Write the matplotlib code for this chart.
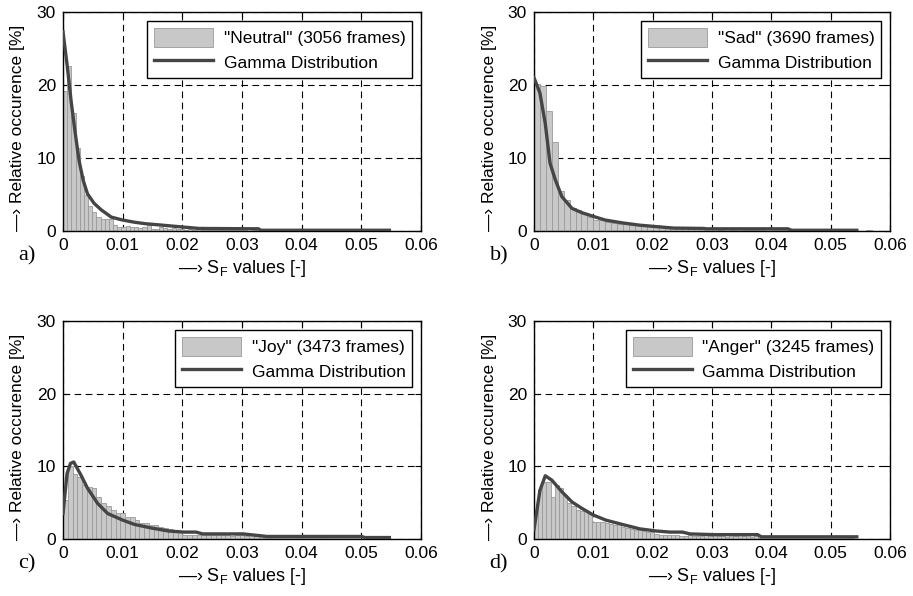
import numpy as np
import matplotlib
matplotlib.use("Agg")
import matplotlib.pyplot as plt

plt.rcParams["font.family"] = ["Liberation Sans", "DejaVu Sans"]
plt.rcParams["mathtext.fontset"] = "custom"
plt.rcParams["mathtext.rm"] = "Liberation Sans"

# histogram bar heights [%], left-aligned bins starting at 0
neutral_bins = [
    19.2, 22.6, 16.2, 11.4, 7.6, 5.0, 3.4, 2.6, 1.9, 1.7, 1.7, 1.6,
    0.8, 0.6, 0.6, 0.7, 0.5, 0.5, 0.4, 0.6, 0.8, 0.3, 0.3, 0.5,
    0.4, 0.3, 0.4, 0.3, 0.3, 0.2, 0.3, 0.2, 0.3, 0.2, 0.2, 0.1,
    0.2, 0.1, 0.1, 0.2, 0.1, 0.1, 0.1, 0.1, 0.0, 0.1, 0.1, 0.0,
    0.1, 0.0, 0.1, 0.0, 0.1, 0.0, 0.0, 0.1, 0.0, 0.0, 0.1, 0.0,
    0.0, 0.1, 0.0, 0.0, 0.0, 0.1, 0.0, 0.0, 0.0, 0.0, 0.1, 0.0,
    0.0, 0.0, 0.0, 0.0, 0.1,
]
sad_bins = [
    20.2, 19.9, 16.5, 12.2, 5.5, 4.2, 3.1, 2.9, 2.5, 1.9,
    1.5, 1.5, 1.3, 1.1, 1.0, 0.9, 0.8, 0.8, 0.7, 0.7,
    0.8, 0.6, 0.5, 0.5, 0.4, 0.4, 0.3, 0.4, 0.3, 0.3,
    0.3, 0.2, 0.3, 0.2, 0.3, 0.2, 0.2, 0.2, 0.2, 0.3,
    0.2, 0.2, 0.1, 0.1, 0.1, 0.1, 0.1, 0.1, 0.1, 0.1,
    0.1, 0.1, 0.1, 0.0, 0.0, 0.0, 0.2,
]
joy_bins = [
    5.4, 10.1, 9.0, 8.5, 7.4, 7.2, 7.0, 5.8, 5.0, 4.5,
    4.0, 3.6, 3.6, 3.0, 3.0, 2.6, 2.2, 2.2, 1.9, 1.9,
    1.6, 1.5, 1.4, 1.2, 1.1, 0.6, 0.5, 0.5, 0.5, 0.5,
    0.6, 0.5, 0.5, 0.6, 0.5, 0.4, 0.5, 0.5, 0.4, 0.5,
    0.4, 0.3, 0.2, 0.2, 0.2, 0.1, 0.2, 0.1, 0.2, 0.1,
    0.1, 0.2, 0.1, 0.1, 0.1, 0.1, 0.2, 0.1, 0.1, 0.1,
    0.1, 0.1, 0.0, 0.1, 0.1, 0.0, 0.1, 0.1,
]
anger_bins = [
    4.0, 6.7, 7.9, 7.9, 5.8, 7.5, 7.0, 6.0, 4.9, 4.5,
    4.0, 3.8, 3.8, 3.4, 2.4, 2.4, 2.4, 2.2, 2.0, 1.9,
    2.0, 1.6, 1.5, 1.4, 1.3, 1.2, 1.1, 1.0, 0.9, 0.7,
    0.6, 0.6, 0.5, 0.5, 0.6, 0.4, 0.4, 0.5, 0.4, 0.4,
    0.4, 0.5, 0.4, 0.5, 0.4, 0.4, 0.3, 0.5, 0.4, 0.5,
    0.4, 0.5, 0.3, 0.4, 0.2, 0.2, 0.1, 0.2, 0.1, 0.2,
    0.1, 0.1, 0.2, 0.1, 0.1, 0.1, 0.2, 0.1, 0.1, 0.1,
    0.1, 0.2, 0.1, 0.1, 0.1, 0.1, 0.1,
]
bin_widths = [0.0007, 0.001, 0.0008, 0.0007]

# fitted gamma curves
neutral_fit_x = [0, 0.00068, 0.00136, 0.002, 0.0027, 0.0034, 0.0041, 0.0052, 0.0064,
                 0.0081, 0.01, 0.012, 0.0138, 0.0166, 0.02, 0.0228, 0.0328, 0.0331, 0.0547]
neutral_fit_y = [27.3, 22.8, 17.8, 13.7, 9.6, 6.9, 5.1, 3.8, 2.9,
                 1.9, 1.5, 1.2, 1.0, 0.8, 0.55, 0.35, 0.3, 0.1, 0.1]
sad_fit_x = [0, 0.001, 0.0019, 0.0027, 0.0036, 0.0047, 0.0064, 0.0081, 0.01, 0.012,
             0.015, 0.0178, 0.0206, 0.0235, 0.0286, 0.029, 0.0428, 0.0434, 0.0544]
sad_fit_y = [21.0, 18.9, 14.7, 9.3, 7.0, 4.7, 3.1, 2.5, 2.0, 1.5,
             1.1, 0.8, 0.6, 0.4, 0.35, 0.3, 0.3, 0.1, 0.1]
joy_fit_x = [0, 0.00068, 0.00125, 0.0018, 0.003, 0.0041, 0.0058, 0.0075, 0.01, 0.012,
             0.0149, 0.0177, 0.0203, 0.0223, 0.0234, 0.0302, 0.0342, 0.05, 0.0506, 0.0547]
joy_fit_y = [3.5, 9.0, 10.4, 10.6, 8.8, 7.0, 4.9, 3.5, 2.6, 2.0,
             1.5, 1.1, 0.95, 0.95, 0.7, 0.7, 0.35, 0.35, 0.2, 0.2]
anger_fit_x = [0, 0.001, 0.0019, 0.003, 0.0047, 0.0064, 0.0081, 0.01, 0.0121, 0.0149,
               0.0178, 0.0206, 0.0229, 0.025, 0.0263, 0.0303, 0.0377, 0.0383, 0.0544]
anger_fit_y = [1.3, 6.7, 8.7, 8.1, 6.5, 5.1, 4.2, 3.3, 2.6, 2.0,
               1.4, 1.1, 0.95, 0.95, 0.7, 0.6, 0.6, 0.3, 0.3]

emotions = ["Neutral", "Sad", "Joy", "Anger"]
frames = [3056, 3690, 3473, 3245]
panel_tags = ["a)", "b)", "c)", "d)"]
x_ticks = [0, 0.01, 0.02, 0.03, 0.04, 0.05, 0.06]
x_tick_labels = ["0", "0.01", "0.02", "0.03", "0.04", "0.05", "0.06"]
y_ticks = [0, 10, 20, 30]

BAR_FACE = "#c8c8c8"
BAR_EDGE = "#9a9a9a"
LINE_COLOR = "#454545"


def draw_panel(ax, bins, width, fit_x, fit_y, emotion, n_frames, tag):
    lefts = np.arange(len(bins)) * width
    bars = ax.bar(lefts, bins, width=width, align="edge", color=BAR_FACE,
                  edgecolor=BAR_EDGE, linewidth=0.6, zorder=2)
    line, = ax.plot(fit_x, fit_y, color=LINE_COLOR, linewidth=2.4, zorder=3)

    ax.set_xlim(0, 0.06)
    ax.set_ylim(0, 30)
    ax.set_xticks(x_ticks)
    ax.set_xticklabels(x_tick_labels)
    ax.set_yticks(y_ticks)
    ax.tick_params(direction="in", length=4, width=0.8, top=True, right=True,
                   labelsize=12.5, pad=5)
    ax.grid(True, color="black", linestyle=(0, (6, 4)), linewidth=0.8, zorder=1)
    ax.set_axisbelow(True)
    for spine in ax.spines.values():
        spine.set_linewidth(1.0)

    ax.set_xlabel("\u2014\u203a S$_\\mathrm{F}$ values [-]", fontsize=13)
    ax.xaxis.set_label_coords(0.5, -0.125)
    ax.set_ylabel("\u2014\u203a Relative occurence [%]", fontsize=12.5)
    ax.yaxis.set_label_coords(-0.105, 0.47)

    leg = ax.legend([bars, line],
                    [f'"{emotion}" ({n_frames} frames)', "Gamma Distribution"],
                    loc="upper right", fontsize=12.5, fancybox=False,
                    edgecolor="black", framealpha=1, borderaxespad=0.5,
                    handlelength=3.4, handleheight=1.3, handletextpad=0.6,
                    borderpad=0.4, labelspacing=0.35)
    leg.get_frame().set_linewidth(1.0)

    ax.text(-0.125, -0.115, tag, transform=ax.transAxes, ha="left", va="center",
            fontsize=16, family="Liberation Serif")


fig = plt.figure(figsize=(9.13, 5.96), dpi=100)
positions = [
    [63 / 913, 1 - 231 / 596, 358 / 913, 219 / 596],
    [534 / 913, 1 - 231 / 596, 356 / 913, 219 / 596],
    [63 / 913, 1 - 539 / 596, 358 / 913, 218 / 596],
    [534 / 913, 1 - 539 / 596, 356 / 913, 218 / 596],
]
all_bins = [neutral_bins, sad_bins, joy_bins, anger_bins]
all_fit_x = [neutral_fit_x, sad_fit_x, joy_fit_x, anger_fit_x]
all_fit_y = [neutral_fit_y, sad_fit_y, joy_fit_y, anger_fit_y]

for i, pos in enumerate(positions):
    ax = fig.add_axes(pos)
    draw_panel(ax, all_bins[i], bin_widths[i], all_fit_x[i], all_fit_y[i],
               emotions[i], frames[i], panel_tags[i])

fig.savefig("out.png", dpi=100)
